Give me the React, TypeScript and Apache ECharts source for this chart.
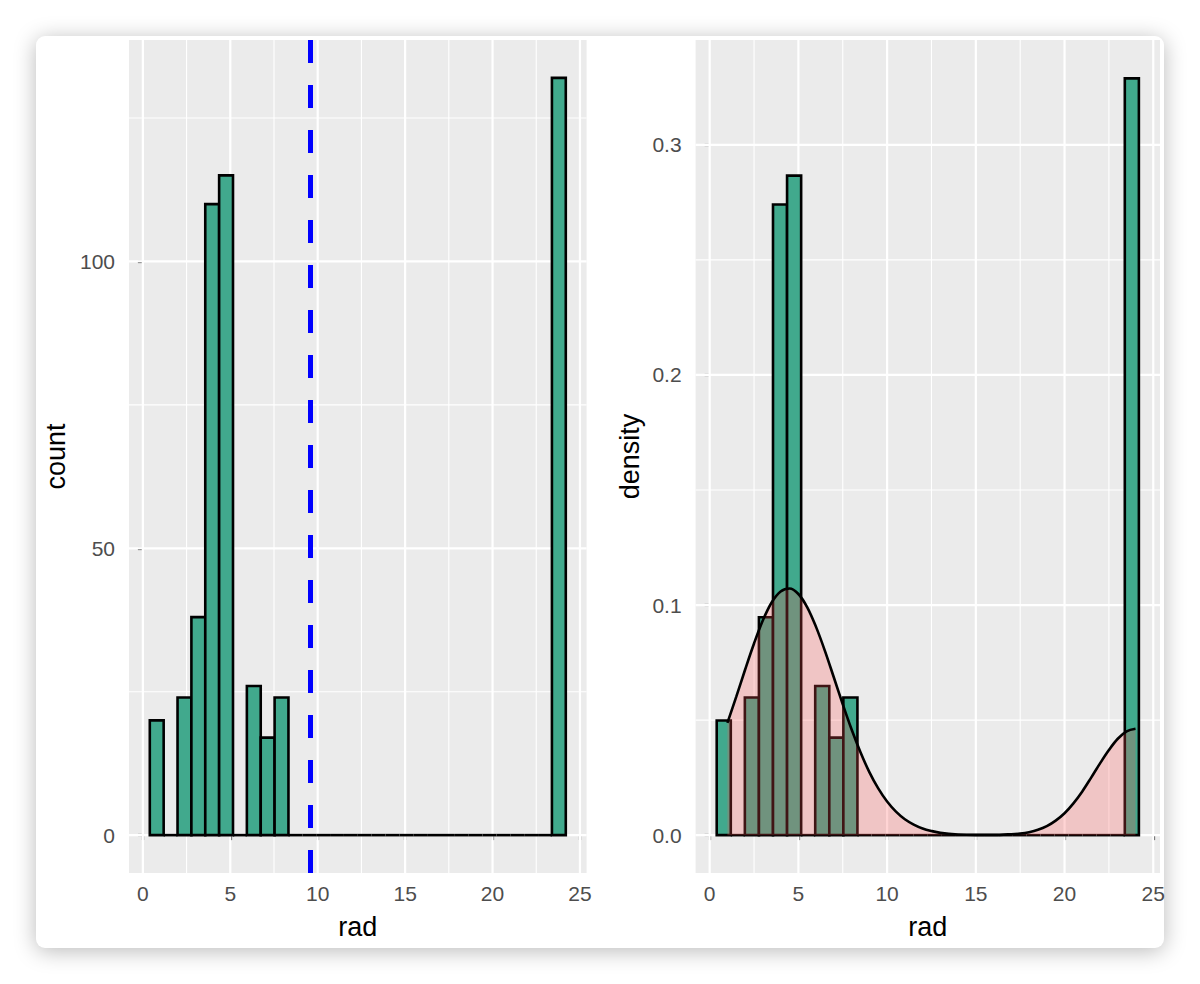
import React, { useEffect, useRef } from "react";
import * as echarts from "echarts";

// ---- data (Boston housing: rad) ----
const BIN_START = 0.3966;
const BIN_WIDTH = 0.7931;
const radBinCounts = [
  20, 0, 24, 38, 110, 115, 0, 26, 17, 24,
  0, 0, 0, 0, 0, 0, 0, 0, 0, 0,
  0, 0, 0, 0, 0, 0, 0, 0, 0, 132,
];
const radBinDensity = [
  0.0498, 0, 0.0598, 0.0947, 0.2741, 0.2866, 0, 0.0648, 0.0424, 0.0598,
  0, 0, 0, 0, 0, 0, 0, 0, 0, 0,
  0, 0, 0, 0, 0, 0, 0, 0, 0, 0.3289,
];
const radMean = 9.549;

const densityX = [
  1, 1.5, 2, 2.5, 3, 3.5, 4, 4.5, 5, 5.5, 6, 6.5, 7, 7.5, 8, 8.5, 9, 9.5, 10,
  10.5, 11, 11.5, 12, 12.5, 13, 14, 15, 16, 17, 17.5, 18, 18.5, 19, 19.5, 20,
  20.5, 21, 21.5, 22, 22.5, 23, 23.5, 24,
];
const densityY = [
  0.0488, 0.0602, 0.072, 0.0833, 0.0934, 0.1012, 0.1059, 0.1072, 0.1048, 0.099,
  0.0904, 0.08, 0.0685, 0.0569, 0.0459, 0.036, 0.0274, 0.0203, 0.0146,
  0.0102, 0.0069, 0.0046, 0.0029, 0.0018, 0.001, 0.0003, 0.0001, 0.0001, 0.0004,
  0.0007, 0.0013, 0.0023, 0.0039, 0.0063, 0.0095, 0.0138, 0.019, 0.025, 0.0312,
  0.037, 0.0419, 0.0451, 0.0462,
];

const xMajorTicks = [0, 5, 10, 15, 20, 25];
const xMinorTicks = [2.5, 7.5, 12.5, 17.5, 22.5];
const countMajorTicks = [0, 50, 100];
const countMinorTicks = [25, 75, 125];
const densityMajorTicks = [0, 0.1, 0.2, 0.3];
const densityMinorTicks = [0.05, 0.15, 0.25];

// ---- styling ----
const FONT = "'Liberation Sans', Arial, Helvetica, sans-serif";
const BAR_FILL = "#41A98D";
const PANEL_BG = "#EBEBEB";
const X_MIN = -0.793;
const X_MAX = 25.38;

function binData(values: number[]) {
  return values.map((v, i) => [
    BIN_START + i * BIN_WIDTH,
    BIN_START + (i + 1) * BIN_WIDTH,
    v,
  ]);
}

function gridData(xMaj: number[], xMin: number[], yMaj: number[], yMin: number[]) {
  const d: number[][] = [];
  xMin.forEach((v) => d.push([v, 0, 0]));
  yMin.forEach((v) => d.push([v, 1, 0]));
  xMaj.forEach((v) => d.push([v, 0, 1]));
  yMaj.forEach((v) => d.push([v, 1, 1]));
  return d;
}

function gridRender(params: any, api: any) {
  const v = api.value(0);
  const dir = api.value(1);
  const major = api.value(2);
  const cs = params.coordSys;
  let shape;
  if (dir === 0) {
    const x = api.coord([v, 0])[0];
    shape = { x1: x, y1: cs.y, x2: x, y2: cs.y + cs.height };
  } else {
    const y = api.coord([0, v])[1];
    shape = { x1: cs.x, y1: y, x2: cs.x + cs.width, y2: y };
  }
  return {
    type: "line",
    shape,
    style: { stroke: "#FFFFFF", lineWidth: major ? 2.2 : 1.1 },
  };
}

function barRender(params: any, api: any) {
  const x0 = api.value(0);
  const x1 = api.value(1);
  const y = api.value(2);
  const p0 = api.coord([x0, y]);
  const p1 = api.coord([x1, 0]);
  if (y === 0) {
    return {
      type: "line",
      shape: { x1: p0[0], y1: p1[1], x2: p1[0], y2: p1[1] },
      style: { stroke: "#000", lineWidth: 2.6 },
    };
  }
  return {
    type: "rect",
    shape: { x: p0[0], y: p0[1], width: p1[0] - p0[0], height: p1[1] - p0[1] },
    style: { fill: BAR_FILL, stroke: "#000", lineWidth: 2.6 },
  };
}

function xAxisCfg(gridIndex: number) {
  return {
    type: "value",
    gridIndex,
    min: X_MIN,
    max: X_MAX,
    name: "rad",
    nameLocation: "middle",
    nameGap: 40,
    nameTextStyle: { fontSize: 27, color: "#000", fontFamily: FONT },
    axisLine: { show: false },
    axisTick: {
      show: true,
      length: 5,
      lineStyle: { color: "#333", width: 2.2 },
      customValues: xMajorTicks,
    },
    axisLabel: {
      color: "#4D4D4D",
      fontSize: 21,
      fontFamily: FONT,
      margin: 10,
      customValues: xMajorTicks,
    },
    splitLine: { show: false },
  };
}

export default function App() {
  const ref = useRef<HTMLDivElement>(null);

  useEffect(() => {
    if (!ref.current) return;
    const chart = echarts.init(ref.current, undefined, { renderer: "svg" });

    const densityLine = densityX.map((x, i) => [x, densityY[i]]);

    chart.setOption({
      animation: false,
      textStyle: { fontFamily: FONT },
      grid: [
        {
          left: 129,
          right: 1200 - 586.6,
          top: 40,
          bottom: 984 - 873,
          show: true,
          backgroundColor: PANEL_BG,
          borderWidth: 0,
        },
        {
          left: 695.6,
          right: 40,
          top: 40,
          bottom: 984 - 873,
          show: true,
          backgroundColor: PANEL_BG,
          borderWidth: 0,
        },
      ],
      xAxis: [xAxisCfg(0), xAxisCfg(1)],
      yAxis: [
        {
          type: "value",
          gridIndex: 0,
          min: -6.6,
          max: 138.6,
          name: "count",
          nameLocation: "middle",
          nameGap: 60,
          nameTextStyle: { fontSize: 27, color: "#000", fontFamily: FONT },
          axisLine: { show: false },
          axisTick: {
            show: true,
            length: 5,
            lineStyle: { color: "#333", width: 2.2 },
            customValues: countMajorTicks,
          },
          axisLabel: {
            color: "#4D4D4D",
            fontSize: 21,
            fontFamily: FONT,
            margin: 14,
            customValues: countMajorTicks,
          },
          splitLine: { show: false },
        },
        {
          type: "value",
          gridIndex: 1,
          min: -0.01645,
          max: 0.34556,
          name: "density",
          nameLocation: "middle",
          nameGap: 52,
          nameTextStyle: { fontSize: 27, color: "#000", fontFamily: FONT },
          axisLine: { show: false },
          axisTick: {
            show: true,
            length: 5,
            lineStyle: { color: "#333", width: 2.2 },
            customValues: densityMajorTicks,
          },
          axisLabel: {
            color: "#4D4D4D",
            fontSize: 21,
            fontFamily: FONT,
            margin: 14,
            customValues: densityMajorTicks,
            formatter: (v: number) => v.toFixed(1),
          },
          splitLine: { show: false },
        },
      ],
      series: [
        {
          type: "custom",
          xAxisIndex: 0,
          yAxisIndex: 0,
          renderItem: gridRender,
          data: gridData(xMajorTicks, xMinorTicks, countMajorTicks, countMinorTicks),
          silent: true,
          z: 1,
        },
        {
          type: "custom",
          xAxisIndex: 1,
          yAxisIndex: 1,
          renderItem: gridRender,
          data: gridData(xMajorTicks, xMinorTicks, densityMajorTicks, densityMinorTicks),
          silent: true,
          z: 1,
        },
        {
          type: "custom",
          xAxisIndex: 0,
          yAxisIndex: 0,
          renderItem: barRender,
          data: binData(radBinCounts),
          encode: { x: [0, 1], y: 2 },
          silent: true,
          z: 2,
          markLine: {
            silent: true,
            symbol: "none",
            label: { show: false },
            lineStyle: { color: "#0000FF", width: 5, type: [23, 22] },
            data: [
              [
                { coord: [radMean, 138.6] },
                { coord: [radMean, -6.6] },
              ],
            ],
          },
        },
        {
          type: "custom",
          xAxisIndex: 1,
          yAxisIndex: 1,
          renderItem: barRender,
          data: binData(radBinDensity),
          encode: { x: [0, 1], y: 2 },
          silent: true,
          z: 2,
        },
        {
          type: "line",
          xAxisIndex: 1,
          yAxisIndex: 1,
          data: densityLine,
          smooth: 0.35,
          symbol: "none",
          lineStyle: { color: "#000", width: 2.6 },
          areaStyle: { color: "rgba(255, 85, 85, 0.25)", opacity: 1, origin: "auto" },
          silent: true,
          z: 3,
        },
      ],
    });

    return () => chart.dispose();
  }, []);

  return (
    <div
      style={{
        position: "absolute",
        left: 0,
        top: 0,
        width: 1200,
        height: 984,
        background: "#FFFFFF",
        overflow: "hidden",
      }}
    >
      <div
        style={{
          position: "absolute",
          left: 36,
          top: 36,
          width: 1128,
          height: 912,
          background: "#FFFFFF",
          borderRadius: 9,
          boxShadow: "0 3px 22px rgba(0,0,0,0.28)",
        }}
      />
      <div
        ref={ref}
        style={{ position: "absolute", left: 0, top: 0, width: 1200, height: 984 }}
      />
    </div>
  );
}
